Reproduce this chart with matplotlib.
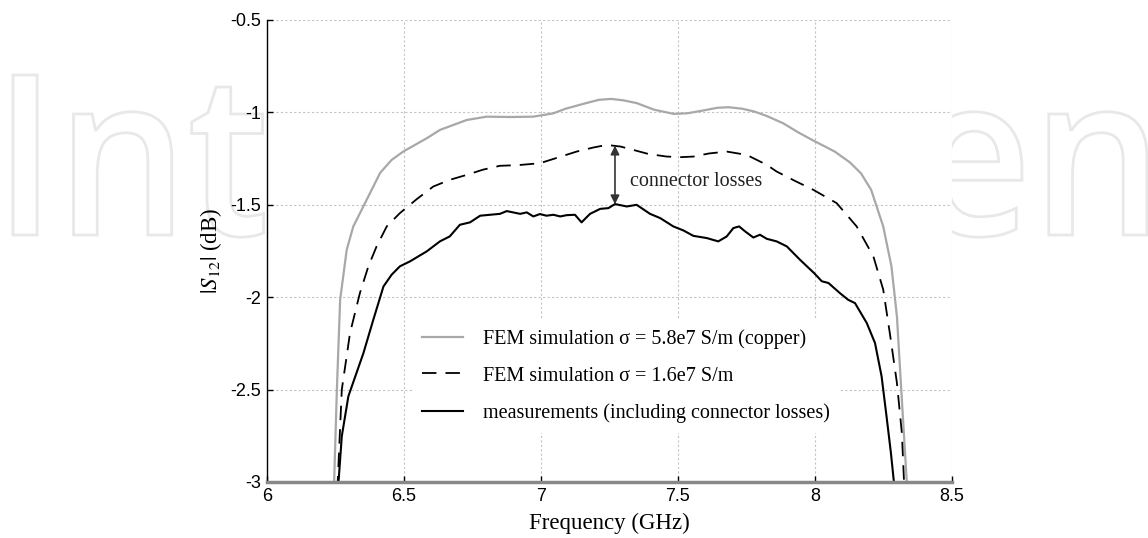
import matplotlib
matplotlib.use("Agg")
import matplotlib.pyplot as plt
from matplotlib.textpath import TextPath
from matplotlib.font_manager import FontProperties
from matplotlib.patches import PathPatch
from matplotlib.transforms import Affine2D

# ---- data ----
f_cu = [6.229, 6.245, 6.255, 6.267, 6.291, 6.315, 6.358, 6.413, 6.455, 6.497, 6.583, 6.631,
        6.729, 6.802, 6.888, 6.972, 7.045, 7.090, 7.164, 7.211, 7.256, 7.302, 7.350, 7.412,
        7.484, 7.533, 7.591, 7.644, 7.684, 7.734, 7.778, 7.825, 7.884, 7.941, 7.991, 8.072,
        8.127, 8.168, 8.205, 8.249, 8.279, 8.299, 8.317, 8.335, 8.341]
s_cu = [-3.3, -3.0, -2.5, -2.013, -1.743, -1.617, -1.49, -1.327, -1.257, -1.212, -1.14, -1.095,
        -1.041, -1.023, -1.025, -1.023, -1.005, -0.98, -0.95, -0.932, -0.927, -0.935, -0.95, -0.985,
        -1.008, -1.005, -0.99, -0.975, -0.972, -0.98, -0.995, -1.02, -1.059, -1.11, -1.15, -1.212,
        -1.27, -1.33, -1.419, -1.617, -1.833, -2.104, -2.554, -3.0, -3.3]

f_sim = [6.253, 6.258, 6.273, 6.303, 6.339, 6.370, 6.400, 6.437, 6.485, 6.546, 6.607, 6.667,
         6.729, 6.788, 6.850, 6.919, 6.996, 7.060, 7.130, 7.191, 7.240, 7.291, 7.337, 7.392,
         7.459, 7.513, 7.556, 7.614, 7.678, 7.751, 7.824, 7.860, 7.926, 7.994, 8.079, 8.152,
         8.213, 8.249, 8.273, 8.299, 8.317, 8.325, 8.330]
s_sim = [-3.3, -3.0, -2.5, -2.194, -1.978, -1.833, -1.725, -1.617, -1.545, -1.47, -1.401, -1.365,
         -1.338, -1.31, -1.289, -1.285, -1.275, -1.245, -1.212, -1.19, -1.176, -1.185, -1.203, -1.225,
         -1.239, -1.242, -1.239, -1.222, -1.212, -1.23, -1.284, -1.32, -1.37, -1.419, -1.491, -1.617,
         -1.779, -1.959, -2.194, -2.464, -2.735, -3.0, -3.3]

f_meas = [6.256, 6.261, 6.273, 6.297, 6.352, 6.388, 6.425, 6.455, 6.485, 6.522, 6.583, 6.631,
          6.667, 6.704, 6.741, 6.778, 6.850, 6.875, 6.924, 6.948, 6.972, 6.996, 7.020, 7.045,
          7.070, 7.094, 7.124, 7.148, 7.179, 7.216, 7.246, 7.270, 7.313, 7.349, 7.398, 7.435,
          7.483, 7.520, 7.556, 7.605, 7.647, 7.678, 7.702, 7.723, 7.745, 7.775, 7.799, 7.824,
          7.860, 7.897, 7.945, 7.997, 8.025, 8.049, 8.091, 8.121, 8.146, 8.189, 8.219, 8.243,
          8.261, 8.277, 8.288, 8.293]
s_meas = [-3.3, -3.0, -2.752, -2.536, -2.302, -2.122, -1.942, -1.878, -1.833, -1.806, -1.752, -1.698,
          -1.671, -1.608, -1.595, -1.559, -1.549, -1.534, -1.549, -1.541, -1.563, -1.55, -1.559, -1.554,
          -1.563, -1.556, -1.554, -1.595, -1.549, -1.522, -1.518, -1.496, -1.509, -1.50, -1.549, -1.572,
          -1.617, -1.639, -1.668, -1.68, -1.698, -1.671, -1.626, -1.617, -1.644, -1.677, -1.662, -1.684,
          -1.698, -1.725, -1.797, -1.87, -1.914, -1.923, -1.978, -2.014, -2.032, -2.14, -2.248, -2.428,
          -2.644, -2.842, -3.0, -3.3]

labels = ["FEM simulation \u03c3 = 5.8e7 S/m (copper)",
          "FEM simulation \u03c3 = 1.6e7 S/m",
          "measurements (including connector losses)"]
xticks = [6, 6.5, 7, 7.5, 8, 8.5]
yticks = [-3, -2.5, -2, -1.5, -1, -0.5]
arrow_f = 7.270
arrow_top = -1.18
arrow_bot = -1.497
annot_text = "connector losses"
watermark = "IntechOpen"

# ---- figure ----
plt.rcParams['mathtext.fontset'] = 'stix'
fig = plt.figure(figsize=(11.48, 5.38), dpi=100)

# watermark on a background axes (behind the main axes)
bg = fig.add_axes([0, 0, 1, 1], zorder=-10)
bg.axis('off')
fp = FontProperties(family='Open Sans', weight='semibold')
tp = TextPath((0, 0), watermark, size=100, prop=fp)
tpI = TextPath((0, 0), watermark[0], size=100, prop=fp)
ext = tp.get_extents()
extI = tpI.get_extents()
sx = 1134.0 / ext.width
sy = 160.0 / extI.height
tr = Affine2D().translate(-ext.x0, 0).scale(sx, sy).translate(13, 538 - 235)
wm = PathPatch(tr.transform_path(tp), facecolor='none', edgecolor='#e8e8e8', lw=2.0)
wm.set_transform(fig.dpi_scale_trans.inverted() + fig.dpi_scale_trans)
bg.add_patch(wm)

ax = fig.add_axes([267 / 1148, 1 - 482 / 538, 685 / 1148, 462 / 538], zorder=1)
ax.set_facecolor('white')
ax.patch.set_alpha(1.0)

ax.plot(f_cu, s_cu, color='#a8a8a8', lw=1.6, label=labels[0])
ax.plot(f_sim, s_sim, color='black', lw=1.3, dashes=(8, 5), label=labels[1])
ax.plot(f_meas, s_meas, color='black', lw=1.5, label=labels[2])

ax.set_xlim(6, 8.5)
ax.set_ylim(-3, -0.5)
ax.set_xticks(xticks)
ax.set_yticks(yticks)
ax.set_xticklabels([f"{t:g}" for t in xticks], fontfamily='Liberation Sans', fontsize=13)
ax.set_yticklabels([f"{t:g}" for t in yticks], fontfamily='Liberation Sans', fontsize=13)
ax.tick_params(axis='both', direction='in', length=4, width=1, color='black')
ax.tick_params(axis='x', pad=4)
ax.tick_params(axis='y', pad=4)

ax.grid(True, ls=(0, (2, 2)), color='#c4c4c4', lw=0.8)
ax.set_axisbelow(True)
for s in ['top', 'right']:
    ax.spines[s].set_visible(False)
ax.spines['left'].set_color('black')
ax.spines['left'].set_linewidth(1.0)
ax.spines['bottom'].set_color('#888888')
ax.spines['bottom'].set_linewidth(2.5)

ax.set_xlabel("Frequency (GHz)", fontfamily='Liberation Serif', fontsize=16.5, labelpad=6)
ax.set_ylabel(r"$|S_{12}|$ (dB)", fontfamily='Liberation Serif', fontsize=16.5, labelpad=5)

ax.annotate("", xy=(arrow_f, arrow_bot), xytext=(arrow_f, arrow_top),
            arrowprops=dict(arrowstyle='<|-|>', color='#333333', lw=1.2, mutation_scale=13,
                            shrinkA=0, shrinkB=0))
ax.text(7.325, -1.372, annot_text, fontfamily='Liberation Serif', fontsize=14.5,
        color='#222222', va='center', ha='left')

leg = ax.legend(loc='upper left', bbox_to_anchor=(0.212, 0.353), borderaxespad=0,
                prop=FontProperties(family='Liberation Serif', size=14.5),
                frameon=True, fancybox=False, framealpha=1, facecolor='white',
                edgecolor='none', handlelength=2.0, handletextpad=1.0,
                labelspacing=0.88, borderpad=0.5)

fig.savefig("out.png", dpi=100, facecolor='white')
